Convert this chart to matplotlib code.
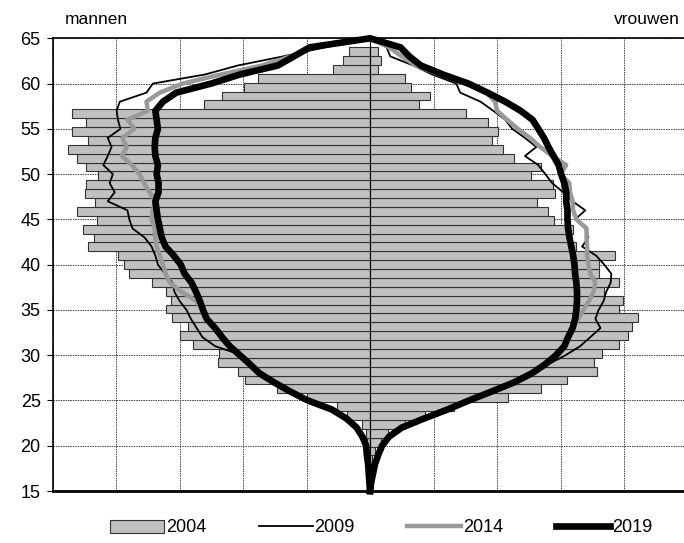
import numpy as np
import matplotlib
matplotlib.use('Agg')
import matplotlib.pyplot as plt
from matplotlib.patches import Patch
from matplotlib.lines import Line2D

plt.rcParams['font.family'] = ['Liberation Sans', 'DejaVu Sans']

# 2004 bars: ages 18..64 (one bar per age on a category axis 15..65)
bar_ages = np.arange(18, 65)
men_2004 = [0.02, 0.03, 0.05, 0.06, 0.13, 0.37, 0.52, 1.00, 1.47, 1.97,
            2.08, 2.40, 2.38, 2.79, 2.99, 2.87, 3.12, 3.22, 3.13, 3.22,
            3.44, 3.79, 3.88, 3.97, 4.44, 4.34, 4.52, 4.30, 4.61, 4.33,
            4.49, 4.48, 4.29, 4.48, 4.61, 4.76, 4.44, 4.70, 4.47, 4.70,
            2.61, 2.33, 1.99, 1.77, 0.58, 0.43, 0.33]
women_2004 = [0.03, 0.08, 0.18, 0.28, 0.55, 0.87, 1.32, 2.17, 2.70, 3.11,
              3.58, 3.52, 3.66, 3.92, 4.06, 4.12, 4.22, 3.92, 3.99, 3.68,
              3.92, 3.60, 3.60, 3.86, 3.25, 3.15, 3.20, 2.89, 2.80, 2.63,
              2.91, 2.88, 2.53, 2.69, 2.27, 2.10, 1.92, 2.02, 1.86, 1.51,
              0.77, 0.95, 0.65, 0.55, 0.12, 0.17, 0.13]

# projection lines, ages 15..65
line_ages = np.arange(15, 66)
men_2019 = [0, 0.01, 0.02, 0.03, 0.05, 0.06, 0.12, 0.21, 0.37, 0.60,
            0.98, 1.26, 1.51, 1.74, 1.89, 2.05, 2.21, 2.33, 2.44, 2.57,
            2.63, 2.68, 2.74, 2.81, 2.92, 2.98, 3.09, 3.22, 3.28, 3.31,
            3.34, 3.36, 3.38, 3.33, 3.33, 3.36, 3.34, 3.38, 3.39, 3.38,
            3.34, 3.36, 3.38, 3.26, 3.05, 2.50, 2.05, 1.45, 1.20, 0.95, 0]
women_2019 = [0, 0.02, 0.05, 0.08, 0.13, 0.19, 0.30, 0.50, 0.85, 1.22,
              1.56, 1.92, 2.27, 2.55, 2.76, 2.93, 3.06, 3.12, 3.19, 3.23,
              3.25, 3.26, 3.26, 3.25, 3.23, 3.22, 3.20, 3.17, 3.14, 3.12,
              3.11, 3.11, 3.09, 3.09, 3.06, 3.01, 2.97, 2.89, 2.81, 2.74,
              2.65, 2.56, 2.37, 2.13, 1.85, 1.55, 1.15, 0.80, 0.62, 0.48, 0]
men_2014 = men_2019[:20] + [
    2.63, 2.74, 2.97, 3.15, 3.22, 3.26, 3.31, 3.36, 3.38, 3.39,
    3.44, 3.42, 3.38, 3.47, 3.56, 3.63, 3.75, 3.91, 3.83, 3.90,
    3.71, 3.82, 3.50, 3.52, 3.31, 2.95, 2.35, 1.70, 1.25, 0.90, 0]
women_2014 = women_2019[:19] + [
    3.28, 3.36, 3.45, 3.52, 3.55, 3.47, 3.44, 3.42, 3.42, 3.41,
    3.41, 3.25, 3.20, 3.19, 3.15, 3.14, 3.00, 3.09, 2.87, 2.68,
    2.52, 2.33, 2.16, 2.00, 1.97, 1.83, 1.50, 1.10, 0.72, 0.50, 0.30, 0]
men_2009 = men_2019[:15] + [
    2.02, 2.44, 2.64, 2.73, 2.82, 2.89, 3.00, 3.08, 3.11, 3.23,
    3.34, 3.38, 3.44, 3.55, 3.74, 3.79, 3.82, 4.13, 4.02, 4.10,
    4.05, 4.20, 4.13, 4.07, 4.13, 3.93, 3.97, 3.99, 3.94, 3.52,
    3.42, 2.60, 2.08, 1.37, 0.71, 0]
women_2009 = women_2019[:14] + [
    2.81, 3.08, 3.31, 3.47, 3.63, 3.55, 3.60, 3.68, 3.72, 3.79,
    3.80, 3.69, 3.56, 3.34, 3.44, 3.39, 3.23, 3.39, 3.19, 3.04,
    2.87, 2.76, 2.65, 2.44, 2.62, 2.44, 2.24, 2.13, 1.94, 1.74,
    1.42, 1.36, 0.98, 0.68, 0.32, 0.26, 0]

fig = plt.figure(figsize=(6.84, 5.43), dpi=100)
ax = fig.add_axes([52.5 / 684, 52 / 543, 635 / 684, 452.7 / 543])
ax.set_xlim(-5, 5)
ax.set_ylim(15, 65)
ax.set_xticks(np.arange(-5, 6))
ax.set_yticks(np.arange(15, 70, 5))
ax.grid(True, color='#404040', lw=0.7, ls=(0, (1.5, 1)))
ax.tick_params(axis='x', bottom=False, labelbottom=False)
ax.tick_params(axis='y', direction='out', length=4.5, width=0.8, labelsize=13, pad=4)
for s in ['left', 'top', 'right']:
    ax.spines[s].set_linewidth(1.2)
ax.spines['bottom'].set_linewidth(2)

# bars on their own category axis
axb = ax.twinx()
axb.set_ylim(14.5, 65.5)
axb.set_yticks([])
for s in axb.spines.values():
    s.set_visible(False)
axb.barh(bar_ages, -np.array(men_2004), height=1, color='#c0c0c0',
         edgecolor='#333333', lw=0.8)
axb.barh(bar_ages, women_2004, height=1, color='#c0c0c0',
         edgecolor='#333333', lw=0.8)
axb.axvline(0, color='black', lw=0.8)

# lines on the age axis
axl = ax.twinx()
axl.set_ylim(15, 65)
axl.set_yticks([])
for s in axl.spines.values():
    s.set_visible(False)


def contour(men, women):
    x = np.concatenate([-np.array(men), np.array(women)[::-1]])
    y = np.concatenate([line_ages, line_ages[::-1]])
    return x, y


for men, women, col, lw in [(men_2009, women_2009, 'black', 1.3),
                            (men_2014, women_2014, '#999999', 3.2),
                            (men_2019, women_2019, 'black', 4.8)]:
    x, y = contour(men, women)
    axl.plot(x, y, color=col, lw=lw, solid_joinstyle='round', clip_on=False)

ax.set_zorder(0)
axb.set_zorder(1)
axl.set_zorder(2)

fig.text(65 / 684, 1 - 20 / 543, 'mannen', ha='left', va='center', fontsize=12.5)
fig.text(680 / 684, 1 - 20 / 543, 'vrouwen', ha='right', va='center', fontsize=12.5)

handles = [Patch(facecolor='#c0c0c0', edgecolor='#333333', lw=0.8),
           Line2D([], [], color='black', lw=1.3),
           Line2D([], [], color='#999999', lw=3.2),
           Line2D([], [], color='black', lw=4.8)]
fig.legend(handles, ['2004', '2009', '2014', '2019'], loc='center',
           bbox_to_anchor=(381 / 684, 15 / 543), ncol=4, frameon=False,
           fontsize=13, handlelength=3, handletextpad=0.1, columnspacing=2.9)

fig.savefig('out.png', dpi=100)
